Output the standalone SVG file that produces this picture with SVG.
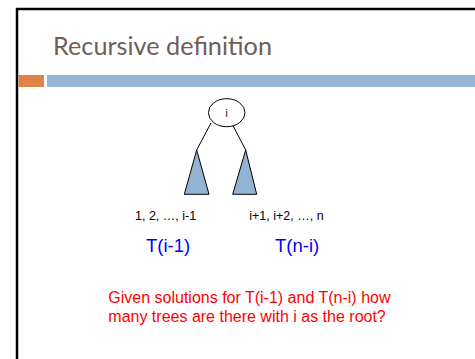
<svg xmlns="http://www.w3.org/2000/svg" width="475" height="359" viewBox="0 0 475 359">
<style>
.sans{font-family:"Liberation Sans",Arial,sans-serif}
.title{font-family:Lato,"Liberation Sans",sans-serif;font-size:25px;fill:#705D57}
.lbl{font-size:12.5px;fill:#000}
.blue{font-size:18.5px;fill:#0000FF}
.red{font-size:16px;fill:#FF0000}
.tri{fill:#93B3D3;stroke:#000;stroke-width:1}
.edge{stroke:#000;stroke-width:1;fill:none}
</style>
<rect x="0" y="0" width="475" height="359" fill="#fff"/>
<path d="M17,359 V9 H475" fill="none" stroke="#000" stroke-width="2.5"/>
<text class="title" x="53" y="55" textLength="219" lengthAdjust="spacingAndGlyphs">Recursive definition</text>
<rect x="18.5" y="75" width="25.5" height="12" fill="#DF8248"/>
<rect x="47" y="75" width="428" height="12" fill="#94B5D3"/>
<g id="connectors">
<line class="edge" x1="211" y1="123" x2="196.7" y2="150"/>
<line class="edge" x1="232.7" y1="125" x2="245.7" y2="150"/>
</g>
<g id="root">
<ellipse cx="226.7" cy="112.7" rx="18.3" ry="14" fill="#fff" stroke="#000" stroke-width="1"/>
<text class="sans" x="226.7" y="116.5" font-size="10" text-anchor="middle">i</text>
</g>
<g id="left-subtree">
<polygon class="tri" points="196.7,150 184.3,194.3 209,194.3"/>
</g>
<g id="right-subtree">
<polygon class="tri" points="245.7,150 232.7,194.3 256.7,194.3"/>
</g>
<text class="sans lbl" x="135" y="220">1, 2, …, i-1</text>
<text class="sans lbl" x="249.3" y="220">i+1, i+2, …, n</text>
<text class="sans blue" x="146" y="251.7">T(i-1)</text>
<text class="sans blue" x="275" y="251.7">T(n-i)</text>
<text class="sans red" x="108.3" y="303.3">Given solutions for T(i-1) and T(n-i) how</text>
<text class="sans red" x="108.3" y="321.7">many trees are there with i as the root?</text>
</svg>
